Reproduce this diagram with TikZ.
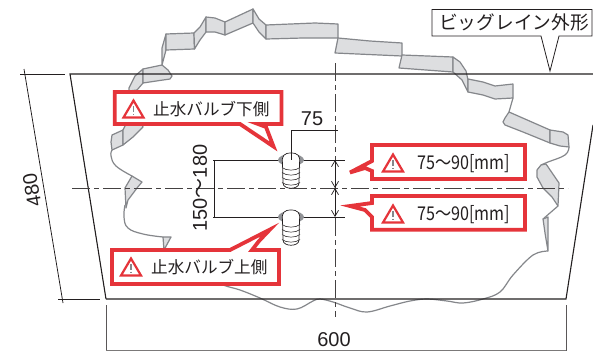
\documentclass[tikz,border=0pt]{standalone}
\usepackage{fontspec}
\setmainfont{Liberation Sans}
\newfontfamily\jpf{Noto Sans CJK JP}
\newfontfamily\jpn[FakeStretch=0.85]{Noto Sans CJK JP}
\usetikzlibrary{arrows.meta}
\definecolor{alertred}{HTML}{E5343A}
\definecolor{ribfill}{HTML}{DDDEE0}
\definecolor{ribline}{HTML}{85878B}
\definecolor{inkc}{HTML}{231F20}
\tikzset{
  rib/.style={fill=ribfill,draw=ribline,line width=1.2pt,line join=round},
  ribedge/.style={draw=ribline,line width=1.2pt,line join=round},
  outline/.style={draw=inkc,line width=1.1pt},
  thin ink/.style={draw=inkc,line width=.75pt},
  centre/.style={draw=inkc!85,line width=.9pt,dash pattern=on 18pt off 4pt on 5pt off 4pt},
  callout/.style={draw=alertred,fill=white,line width=3.8pt,miter limit=10,line join=miter},
  labeltext/.style={text=inkc,inner sep=0pt,font=\jpf\fontsize{16.6}{17}\selectfont},
  dimtext/.style={text=inkc,inner sep=0pt,font=\fontsize{20}{22}\selectfont},
  warnnum/.style={text=inkc,inner sep=0pt,font=\jpn\fontsize{19}{20}\selectfont},
  dimarrow/.style={draw=inkc,line width=.7pt,{Straight Barb[length=6pt,width=7pt]}-{Straight Barb[length=6pt,width=7pt]}},
}
\newcommand{\warnicon}[2]{%
  \draw[alertred,fill=white,line width=2.2pt,miter limit=10] (#1-10,#2+8.5)--(#1,#2-8.5)--(#1+10,#2+8.5)--cycle;
  \draw[ribline,line width=1.1pt] (#1,#2-3)--(#1,#2+3);
  \draw[ribline,line width=1.1pt] (#1,#2+4.8)--(#1,#2+6.3);
}
\newcommand{\valve}[1]{%
  \begin{scope}[shift={(291,#1)}]
    \fill[ribline!90] (0,0) ellipse [x radius=13,y radius=6];
    \draw[inkc,fill=white,line width=.7pt] (-8.5,3) .. controls (-9.5,-4) and (-7,-7) .. (0,-7) .. controls (7,-7) and (9.5,-4) .. (8.5,3)
      -- (8,23) .. controls (8,30) and (-8,30) .. (-8,23) -- cycle;
    \foreach \ty in {7.5,12.5,17.5,22.5}
      \draw[inkc,line width=.55pt] (-9,\ty) .. controls (-5,\ty+3.5) and (5,\ty+3.5) .. (9,\ty);
  \end{scope}%
}
\begin{document}
\begin{tikzpicture}[x=1pt,y=-1pt]
\useasboundingbox (0,0) rectangle (593,351);
\clip (0,0) rectangle (593,351);
\fill[white] (0,0) rectangle (593,351);
% ribbon
\path[rib] (143,69)--(135,76)--(129,88)--(129,91)--(137,90)--(143,83)--cycle;
\path[rib] (143,69)--(162,65)--(168,70)--(172,76)--(170,79)--(163,80)--(143,83)--cycle;
\path[rib] (166,34)--(162,48)--(162,65)--(166,50)--cycle;
\path[rib] (166,34)--(194,33)--(194.5,49)--(166,50)--cycle;
\path[rib] (194,33)--(200,27)--(206,17)--(206,32)--(200,40)--(194.5,49)--cycle;
\path[rib] (206,17)--(215,18)--(225,22)--(225,35)--(215,32)--(206,32)--cycle;
\path[rib] (225,22)--(253,9)--(253,23)--(225,35)--cycle;
\path[rib] (253,9)--(259,19)--(266,25)--(266,39)--(259,32)--(253,23)--cycle;
\path[rib] (266,25)--(315,23)--(338,24)--(338,38)--(303,38)--(266,39)--cycle;
\path[rib] (338,38)--(370,41)--(402,43)--(402,56)--(335,53)--cycle;
\path[rib] (402,55)--(453,57)--(453,72)--(399,68)--cycle;
\path[rib] (453,57)--(460,62)--(466,71)--(468,80)--(468,92)--(462,80)--(453,72)--cycle;
\path[rib] (468,79)--(483,82)--(495,86)--(513,84)--(513,98)--(495,99)--(483,95)--(468,92)--cycle;
\path[ribedge] (513,98)--(509,112);
\path[rib] (509,112)--(550,130)--(550,143)--(523,132)--(505,125)--(503,122)--(505,118)--cycle;
\path[rib] (550,130)--(563,132)--(568,135)--(569,147)--(560,146)--(550,143)--cycle;
\draw[ribedge] plot[smooth,tension=.7] coordinates {(569,147) (565,155) (548,162) (541,165)};
\path[rib] (546,164)--(559,183)--(558,206)--(552,197)--(543,188)--(537,177)--(537,170)--(541,165)--cycle;
\path[ribedge] (558,206)--(543,219);
\path[rib] (543,219)--(548,217)--(548,251)--(545,233)--cycle;
\draw[ribedge] plot[smooth,tension=.6] coordinates {(548,251) (533,255) (513,275) (500,292) (483,299) (463,303) (447,301) (427,299) (410,301) (390,306) (367,312) (350,308) (333,302) (320,299) (313,301) (297,309) (280,307) (260,298) (240,290) (223,285) (200,275)};
\path[rib] (163,237)--(171,237)--(164,250)--cycle;
\draw[ribedge] plot[smooth,tension=.7] coordinates {(163,237) (143,234) (128,228) (124,217) (125,205)};
\path[rib] (132,176)--(142,182)--(137,188)--(128,200)--(126,208)--(125,188)--cycle;
\draw[ribedge] plot[smooth,tension=.7] coordinates {(132,176) (116,166) (111,156) (112,150)};
\path[rib] (112,135)--(123,130)--(123,145)--(112,150)--(111,142)--cycle;
\path[rib] (123,130)--(128,120)--(140,120)--(143,127)--(133,137)--(123,145)--cycle;
% outer shape
\draw[outline] (106,299)--(70,74)--(593,74);
\draw[outline] (106,299)--(566,299)--(593,125);
% dimension lines
\draw[thin ink] (20,74)--(65,74);
\draw[thin ink] (58,299)--(100,299);
\draw[thin ink] (24,69)--(63,303);
\draw[thin ink,draw=inkc!75] (106,305)--(106,351);
\draw[thin ink,draw=inkc!75] (566,305)--(566,351);
\draw[thin ink,draw=inkc!60] (106,350.5)--(566,350.5);
\node[dimtext,rotate=99.5] (d480) at (32,190) {480};
\node[dimtext] (d600) at (334,340) {600};
% centre lines
\draw[centre] (72,188)--(568,188);
\draw[centre] (335,63)--(335,317);
% valve dims
\draw[thin ink] (213,160)--(345,160);
\draw[thin ink] (213,217)--(345,217);
\draw[thin ink] (214,160)--(214,217);
\draw[thin ink] (291,130)--(338,130);
\valve{160}
\valve{217}
\draw[thin ink] (291,130)--(291,160);
\draw[dimarrow] (335,160)--(335,188);
\draw[dimarrow] (335,188)--(335,217);
\node[dimtext] (d75) at (312,119) {75};
\node[dimtext,rotate=90] (d150) at (200,188) {150{\jpf〜}180};
% callouts
\path[callout] (114.7,92)--(281.5,92)--(281.5,124)--(258,124)--(266,127)--(273.5,146.5)--(240,124)--(114.7,124)--cycle;
\warnicon{133.5}{109}
\node[labeltext,anchor=west] (upperlabel) at (153,109) {止水バルブ下側};
\path[callout] (112,250)--(230,250)--(270,229.5)--(259,241)--(252,250)--(279,250)--(279,284)--(112,284)--cycle;
\warnicon{131}{267}
\node[labeltext,anchor=west] (lowerlabel) at (151,267) {止水バルブ上側};
\path[callout] (372,145)--(525,145)--(525,179)--(372,179)--(372,171)--(365,168)--(350,172.5)--(372,161)--cycle;
\warnicon{393}{163}
\node[warnnum,anchor=west] (rangeA) at (417,164) {75〜90[mm]};
\path[callout] (372,196)--(525,196)--(525,229.7)--(372,229.7)--(372,217)--(365,210)--(350,206)--(372,203)--cycle;
\warnicon{393}{214}
\node[warnnum,anchor=west] (rangeB) at (417,214.5) {75〜90[mm]};
% outline label
\draw[draw=inkc,fill=white,line width=.8pt] (432,9.5)--(592,9.5)--(592,36)--(559,36)--(550,71)--(541,36)--(432,36)--cycle;
\node[labeltext,anchor=west,font=\jpf\fontsize{18.7}{19}\selectfont] (outlabel) at (439,22.5) {ビッグレイン外形};
\end{tikzpicture}
\end{document}
